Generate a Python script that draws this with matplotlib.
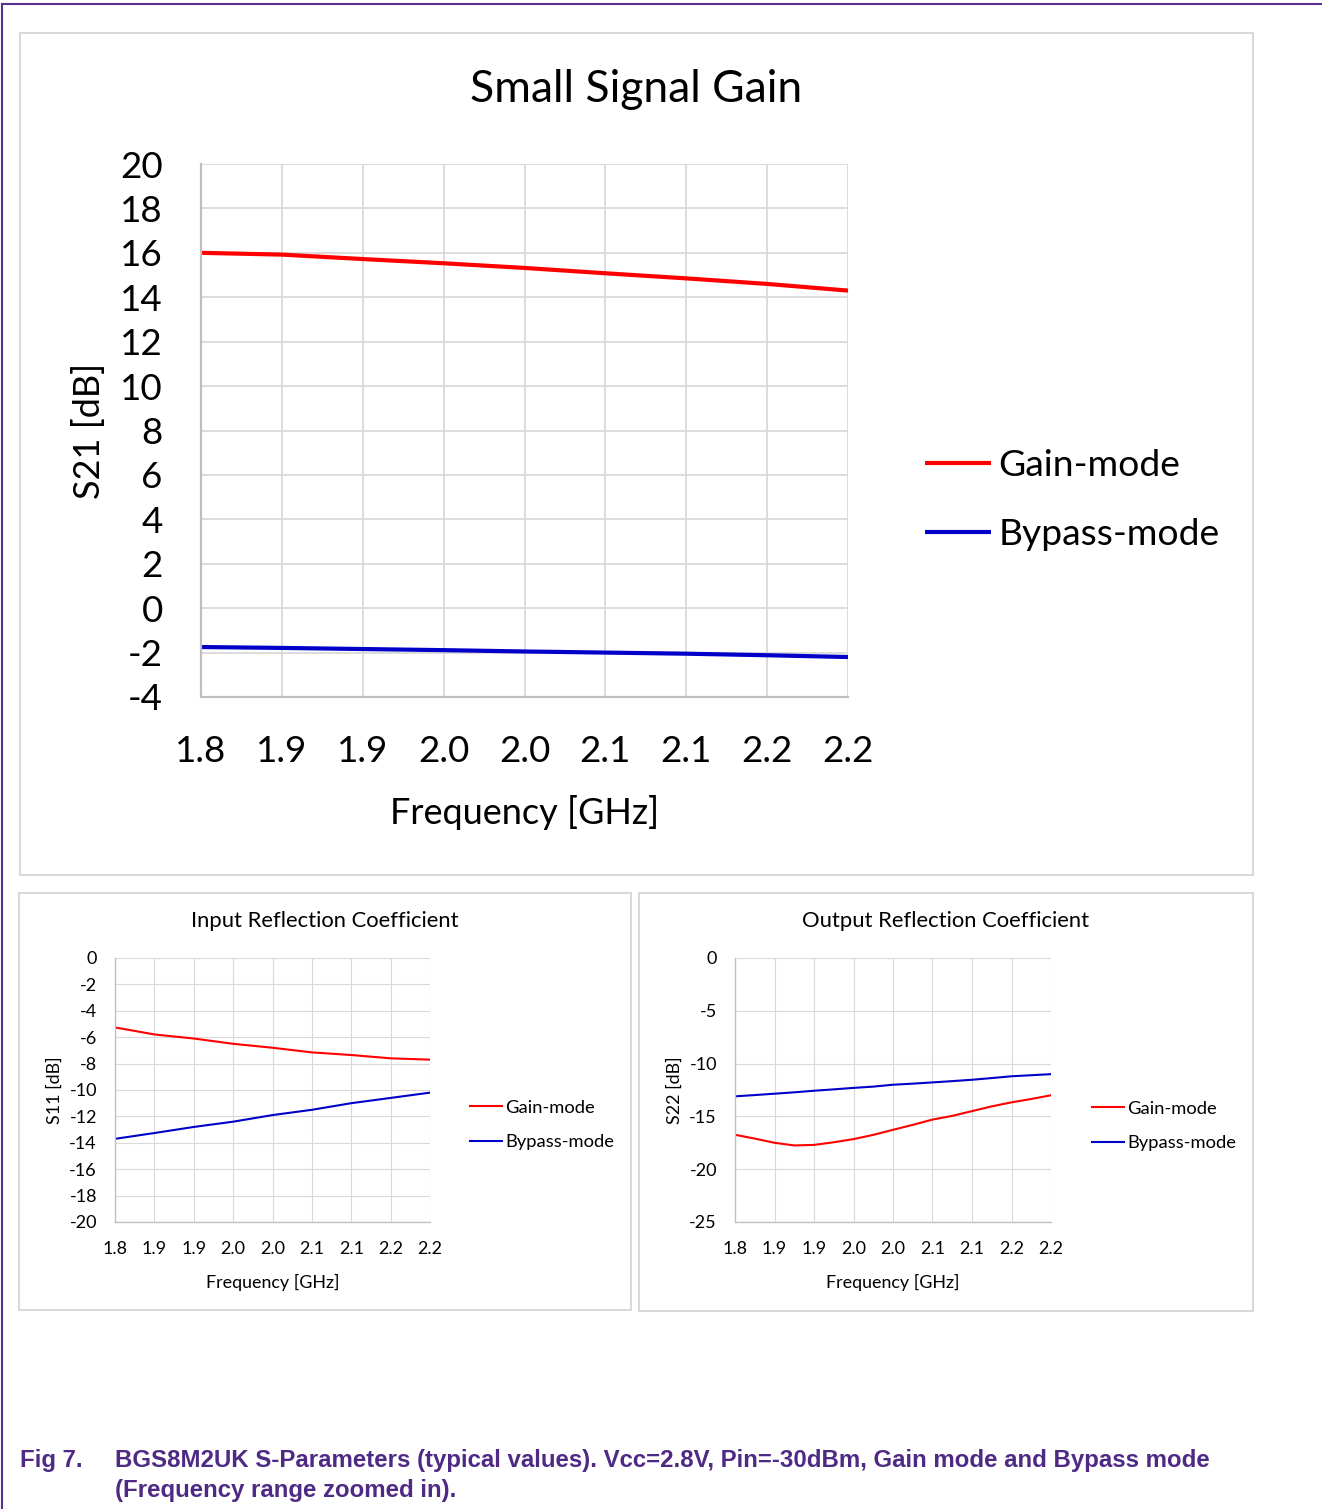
import matplotlib
matplotlib.use("Agg")
import matplotlib.pyplot as plt
from matplotlib.patches import Rectangle
from matplotlib.lines import Line2D
import numpy as np

plt.rcParams['font.family'] = ['Lato', 'DejaVu Sans']
plt.rcParams['axes.unicode_minus'] = False

# ---------------- data ----------------
freq = [1.80, 1.85, 1.90, 1.95, 2.00, 2.05, 2.10, 2.15, 2.20]
freq_ticklabels = ['1.8', '1.9', '1.9', '2.0', '2.0', '2.1', '2.1', '2.2', '2.2']

s21_gain = [16.0, 15.92, 15.72, 15.53, 15.32, 15.08, 14.85, 14.6, 14.3]
s21_bypass = [-1.75, -1.79, -1.84, -1.89, -1.95, -2.0, -2.05, -2.12, -2.2]

s11_gain = [-5.26, -5.79, -6.1, -6.5, -6.8, -7.15, -7.35, -7.6, -7.7]
s11_bypass = [-13.7, -13.26, -12.8, -12.4, -11.9, -11.5, -11.0, -10.6, -10.2]

freq_fine = [1.800, 1.825, 1.850, 1.875, 1.900, 1.925, 1.950, 1.975, 2.000,
             2.025, 2.050, 2.075, 2.100, 2.125, 2.150, 2.175, 2.200]
s22_gain = [-16.74, -17.1, -17.5, -17.75, -17.7, -17.45, -17.15, -16.75, -16.27,
            -15.8, -15.3, -14.95, -14.5, -14.05, -13.67, -13.35, -13.0]
s22_bypass = [-13.1, -12.98, -12.85, -12.72, -12.57, -12.44, -12.3, -12.18, -12.0,
              -11.9, -11.78, -11.66, -11.53, -11.37, -11.2, -11.1, -11.0]

series_names = ['Gain-mode', 'Bypass-mode']
RED = '#ff0000'
BLUE = '#0000c8'
GRID = '#d9d9d9'
PURPLE = '#4f2a85'

W, H = 1322, 1509
fig = plt.figure(figsize=(W / 100, H / 100), dpi=100)


def rect(x0, y0, x1, y1):
    return [x0 / W, 1 - y1 / H, (x1 - x0) / W, (y1 - y0) / H]


def fx(x):
    return x / W


def fy(y):
    return 1 - y / H


# page frame (purple)
fig.add_artist(Line2D([fx(2), 1.0], [fy(4), fy(4)], color='#5a2d91', lw=1.5))
fig.add_artist(Line2D([fx(2), fx(2)], [fy(4), 0.0], color='#5a2d91', lw=1.5))

# panel boxes
for (x0, y0, x1, y1) in [(20, 33, 1253, 875), (19, 893, 631, 1310), (639, 893, 1253, 1311)]:
    fig.add_artist(Rectangle((fx(x0), fy(y1)), fx(x1 - x0), (y1 - y0) / H,
                             fill=False, edgecolor='#d9d9d9', lw=1.5))


def style_axes(ax, ylim, ystep, fs, pady, padx, gridlw):
    ax.set_xlim(freq[0], freq[-1])
    ax.set_ylim(*ylim)
    ax.set_xticks(freq)
    ax.set_xticklabels(freq_ticklabels)
    ax.set_yticks(np.arange(ylim[0], ylim[1] + 0.001, ystep))
    ax.tick_params(axis='y', length=0, labelsize=fs, pad=pady)
    ax.tick_params(axis='x', length=0, labelsize=fs, pad=padx)
    ax.grid(True, color=GRID, lw=gridlw)
    ax.set_axisbelow(True)
    for s in ['top', 'right']:
        ax.spines[s].set_visible(False)
    for s in ['left', 'bottom']:
        ax.spines[s].set_color('#bfbfbf')
        ax.spines[s].set_linewidth(gridlw * 1.2)


# ---------------- top chart ----------------
ax = fig.add_axes(rect(201, 164, 848, 697))
l1, = ax.plot(freq, s21_gain, color=RED, lw=3, solid_capstyle='butt')
l2, = ax.plot(freq, s21_bypass, color=BLUE, lw=3, solid_capstyle='butt')
for l in (l1, l2):
    l.set_clip_on(False)
style_axes(ax, (-4, 20), 2, 26.5, 27.5, 27, 1.3)
ax.set_xlabel('Frequency [GHz]', fontsize=26, labelpad=20)
ax.set_ylabel('S21 [dB]', fontsize=26, labelpad=10)
fig.text(fx(636), fy(90), 'Small Signal Gain', fontsize=32, ha='center', va='center')
fig.legend([l1, l2], series_names, loc='center left',
           bbox_to_anchor=(fx(891), fy(500)), frameon=False, fontsize=26.8,
           handlelength=1.79, handletextpad=0.19, labelspacing=0.97)

# ---------------- S11 chart ----------------
ax2 = fig.add_axes(rect(115, 958, 430, 1222))
a1, = ax2.plot(freq, s11_gain, color=RED, lw=1.5)
a2, = ax2.plot(freq, s11_bypass, color=BLUE, lw=1.5)
style_axes(ax2, (-20, 0), 2, 13, 13, 14, 0.8)
ax2.set_xlabel('Frequency [GHz]', fontsize=12.9, labelpad=12)
ax2.set_ylabel('S11 [dB]', fontsize=12.9, labelpad=5)
fig.text(fx(325), fy(921), 'Input Reflection Coefficient', fontsize=15.8, ha='center', va='center')
fig.legend([a1, a2], series_names, loc='center left',
           bbox_to_anchor=(fx(453), fy(1125)), frameon=False, fontsize=13.2,
           handlelength=1.75, handletextpad=0.2, labelspacing=1.0)

# ---------------- S22 chart ----------------
ax3 = fig.add_axes(rect(735, 958, 1051, 1222))
b1, = ax3.plot(freq_fine, s22_gain, color=RED, lw=1.5)
b2, = ax3.plot(freq_fine, s22_bypass, color=BLUE, lw=1.5)
style_axes(ax3, (-25, 0), 5, 13, 13, 14, 0.8)
ax3.set_xlabel('Frequency [GHz]', fontsize=12.9, labelpad=12)
ax3.set_ylabel('S22 [dB]', fontsize=12.9, labelpad=5)
fig.text(fx(946), fy(921), 'Output Reflection Coefficient', fontsize=15.8, ha='center', va='center')
fig.legend([b1, b2], series_names, loc='center left',
           bbox_to_anchor=(fx(1075), fy(1126)), frameon=False, fontsize=13.2,
           handlelength=1.75, handletextpad=0.2, labelspacing=1.0)

# ---------------- caption ----------------
cap_font = dict(family=['Liberation Sans', 'DejaVu Sans'], fontweight='bold',
                fontsize=17.25, color=PURPLE, va='center', ha='left')
fig.text(fx(20), fy(1461), 'Fig 7.', **cap_font)
fig.text(fx(115), fy(1461),
         'BGS8M2UK S-Parameters (typical values). Vcc=2.8V, Pin=-30dBm, Gain mode and Bypass mode',
         **cap_font)
fig.text(fx(115), fy(1490), '(Frequency range zoomed in).', **cap_font)

fig.savefig('out.png', dpi=100)
